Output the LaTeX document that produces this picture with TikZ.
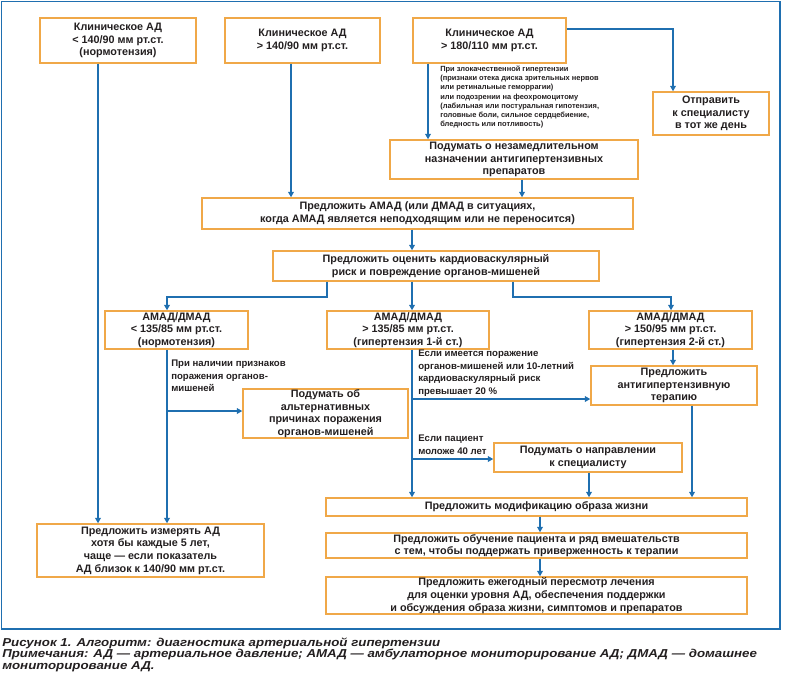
\documentclass[tikz,border=0pt]{standalone}
\usepackage{fontspec}
\setmainfont{Liberation Sans}
\newfontfamily\capfont[FakeStretch=1.16]{Liberation Sans}
\usetikzlibrary{arrows.meta}
\definecolor{fblue}{HTML}{1F6FB0}
\definecolor{forange}{HTML}{F0A848}
\definecolor{ftext}{HTML}{231F20}
\newcommand\bxnode[6]{\node[box, minimum width=#4*0.75pt, minimum height=#5*0.75pt] (#1) at (#2,#3) {#6};}
\tikzset{
  box/.style={draw=forange, line width=1.1pt, inner sep=0pt, align=center,
    font=\bfseries\fontsize{8.1}{9.5}\selectfont, text=ftext},
  arr/.style={draw=fblue, line width=1pt, -{Triangle[length=4pt,width=4.2pt]}},
  smallnote/.style={anchor=north west, inner sep=0pt, align=left, text=ftext,
    font=\bfseries\fontsize{5.6}{6.8}\selectfont},
  midnote/.style={anchor=north west, inner sep=0pt, align=left, text=ftext,
    font=\bfseries\fontsize{7.2}{9.3}\selectfont},
  captext/.style={anchor=base west, inner sep=0pt, text=ftext,
    font=\capfont\bfseries\itshape\fontsize{8.6}{10}\selectfont}
}
\begin{document}
\begin{tikzpicture}[x=0.75pt, y=-0.75pt]
\useasboundingbox (0,0) rectangle (787,679);
\draw[fblue, line width=1.1pt] (1.5,1.5) rectangle (780,629);

\bxnode{b1}{118}{40.5}{156}{45}{Клиническое АД\\< 140/90 мм рт.ст.\\(нормотензия)}
\bxnode{b2}{302.5}{40.5}{155}{45}{Клиническое АД\\> 140/90 мм рт.ст.}
\bxnode{b3}{489.5}{40.5}{153}{45}{Клиническое АД\\> 180/110 мм рт.ст.}
\bxnode{b4}{711}{113.5}{116}{43}{Отправить\\к специалисту\\в тот же день}
\bxnode{b5}{514}{159.5}{248}{39}{Подумать о незамедлительном\\назначении антигипертензивных\\препаратов}
\bxnode{b6}{417.5}{213.5}{431}{31}{Предложить АМАД (или ДМАД в ситуациях,\\когда АМАД является неподходящим или не переносится)}
\bxnode{b7}{436}{266}{326}{30}{Предложить оценить кардиоваскулярный\\риск и повреждение органов-мишеней}
\bxnode{b8}{176.5}{330}{143}{38}{АМАД/ДМАД\\< 135/85 мм рт.ст.\\(нормотензия)}
\bxnode{b9}{408}{330}{162}{38}{АМАД/ДМАД\\> 135/85 мм рт.ст.\\(гипертензия 1-й ст.)}
\bxnode{b10}{670.5}{330}{163}{38}{АМАД/ДМАД\\> 150/95 мм рт.ст.\\(гипертензия 2-й ст.)}
\bxnode{b11}{674}{385.5}{166}{39}{Предложить\\антигипертензивную\\терапию}
\bxnode{b12}{325.5}{413.5}{165}{49}{Подумать об\\альтернативных\\причинах поражения\\органов-мишеней}
\bxnode{b13}{588}{457.5}{188}{29}{Подумать о направлении\\к специалисту}
\bxnode{b14}{150.5}{550.5}{227}{53}{Предложить измерять АД\\хотя бы каждые 5 лет,\\чаще — если показатель\\АД близок к 140/90 мм рт.ст.}
\bxnode{b15}{536.5}{507}{421}{18}{Предложить модификацию образа жизни}
\bxnode{b16}{536.5}{545.5}{421}{25}{Предложить обучение пациента и ряд вмешательств\\с тем, чтобы поддержать приверженность к терапии}
\bxnode{b17}{536.5}{595.5}{421}{37}{Предложить ежегодный пересмотр лечения\\для оценки уровня АД, обеспечения поддержки\\и обсуждения образа жизни, симптомов и препаратов}

\node[smallnote] (n1) at (440,66) {При злокачественной гипертензии\\(признаки отека диска зрительных нервов\\или ретинальные геморрагии)\\или подозрении на феохромоцитому\\(лабильная или постуральная гипотензия,\\головные боли, сильное сердцебиение,\\бледность или потливость)};
\node[midnote] (n2) at (171,360) {При наличии признаков\\поражения органов-\\мишеней};
\node[midnote] (n3) at (418,350) {Если имеется поражение\\органов-мишеней или 10-летний\\кардиоваскулярный риск\\превышает 20 \%};
\node[midnote] (n4) at (418,435) {Если пациент\\моложе 40 лет};

% connectors
\draw[arr] (b1.south -| 98,0) -- (b14.north -| 98,0);
\draw[arr] (b2.south -| 291,0) -- (b6.north -| 291,0);
\draw[arr] (b3.south -| 428,0) -- (b5.north -| 428,0);
\draw[arr] (b3.east |- 0,29) -| (b4.north -| 673,0);
\draw[arr] (b5.south -| 522,0) -- (b6.north -| 522,0);
\draw[arr] (b6.south -| 412,0) -- (b7.north -| 412,0);
\draw[arr] (b7.south -| 327,0) -- (327,297) -| (b8.north -| 167,0);
\draw[arr] (b7.south -| 412,0) -- (b9.north -| 412,0);
\draw[arr] (b7.south -| 513,0) -- (513,297) -| (b10.north -| 671,0);
\draw[arr] (b10.south -| 673,0) -- (b11.north -| 673,0);
\coordinate (j1) at (167,411);
\draw[arr] (b8.south -| 167,0) -- (b14.north -| 167,0);
\draw[arr] (j1) -- (b12.west |- j1);
\coordinate (j2) at (412,399);
\coordinate (j3) at (412,459);
\draw[arr] (b9.south -| 412,0) -- (b15.north -| 412,0);
\draw[arr] (j2) -- (b11.west |- j2);
\draw[arr] (j3) -- (b13.west |- j3);
\draw[arr] (b13.south -| 589,0) -- (b15.north -| 589,0);
\draw[arr] (b11.south -| 692,0) -- (b15.north -| 692,0);
\draw[arr] (b15.south -| 540,0) -- (b16.north -| 540,0);
\draw[arr] (b16.south -| 540,0) -- (b17.north -| 540,0);

% caption
\node[captext] (c1) at (2,646) {Рисунок 1. Алгоритм: диагностика артериальной гипертензии};
\node[captext] (c2) at (2,657.5) {Примечания: АД — артериальное давление; АМАД — амбулаторное мониторирование АД; ДМАД — домашнее};
\node[captext] (c3) at (2,669) {мониторирование АД.};
\end{tikzpicture}
\end{document}
